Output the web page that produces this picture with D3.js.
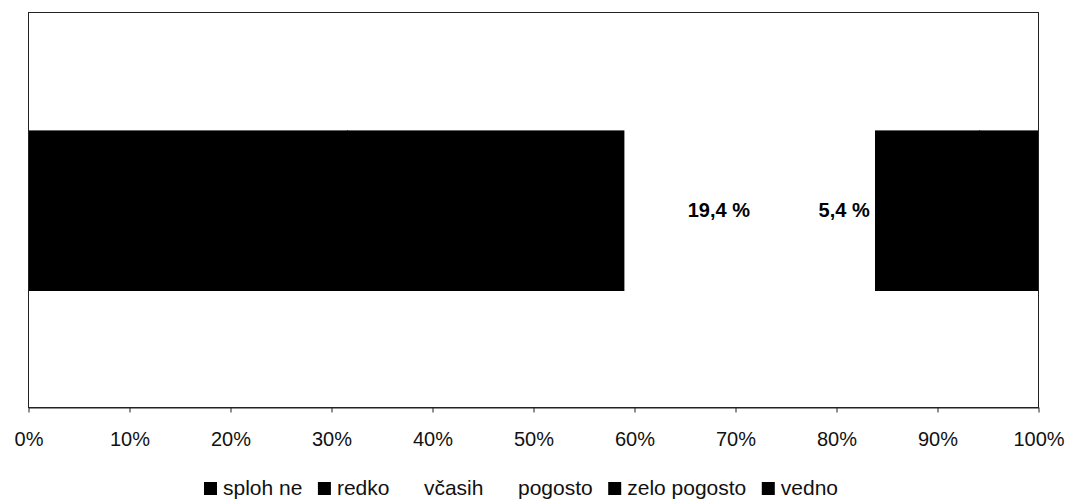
<!DOCTYPE html>
<html>
<head>
<meta charset="utf-8">
<script src="https://cdn.jsdelivr.net/npm/d3@7"></script>
<style>
  html, body { margin: 0; padding: 0; background: #fff; }
  svg { display: block; font-family: "Liberation Sans", Arial, sans-serif; }
</style>
</head>
<body>
<svg id="chart" width="1066" height="501"></svg>
<script>
// Answer categories (stacked left to right)
const categories = ["sploh ne", "redko", "včasih", "pogosto", "zelo pogosto", "vedno"];
// Share of answers, in percent
const values = [31.6, 27.5, 19.4, 5.4, 10.3, 5.8];
// Segment fills per category
const fills = ["#000000", "#000000", "#ffffff", "#ffffff", "#000000", "#000000"];
// Axis tick values (percent)
const tickValues = [0, 10, 20, 30, 40, 50, 60, 70, 80, 90, 100];
// Single bar row
const rows = ["all"];

const svg = d3.select("#chart");
const margin = { left: 28, right: 28, top: 12, bottom: 94 };
const W = 1066, H = 501;
const plotW = W - margin.left - margin.right;
const plotH = H - margin.top - margin.bottom;

const x = d3.scaleLinear().domain([0, 100]).range([margin.left, margin.left + plotW]);
const y = d3.scaleBand().domain(rows).range([margin.top, margin.top + plotH])
  .paddingInner(0).paddingOuter(0.734).align(0.506);

// stacked segments
const stackRow = {};
categories.forEach((c, i) => stackRow[c] = values[i]);
const stacked = d3.stack().keys(categories)([stackRow]);

const g = svg.append("g");
g.selectAll("rect.seg")
  .data(stacked)
  .join("rect")
  .attr("class", "seg")
  .attr("x", d => x(d[0][0]))
  .attr("y", y("all"))
  .attr("width", d => x(d[0][1]) - x(d[0][0]))
  .attr("height", y.bandwidth())
  .attr("fill", (d, i) => fills[i])
  .attr("stroke", (d, i) => fills[i])
  .attr("stroke-width", 0.6)
  .attr("shape-rendering", "crispEdges");

// value labels on the light segments
const fmt = v => String(v).replace(".", ",") + " %";
g.selectAll("text.val")
  .data(stacked.filter((d, i) => fills[i] === "#ffffff"))
  .join("text")
  .attr("class", "val")
  .attr("x", d => (x(d[0][0]) + x(d[0][1])) / 2 - 4)
  .attr("y", y("all") + y.bandwidth() / 2 + 6)
  .attr("text-anchor", "middle")
  .attr("font-size", 20)
  .attr("font-weight", "bold")
  .attr("fill", "#000")
  .text(d => fmt(d[0].data[d.key]));

// plot frame
svg.append("rect")
  .attr("x", margin.left + 0.5)
  .attr("y", margin.top + 0.5)
  .attr("width", plotW)
  .attr("height", plotH)
  .attr("fill", "none")
  .attr("stroke", "#222")
  .attr("stroke-width", 1);

// bottom axis
const axis = d3.axisBottom(x)
  .tickValues(tickValues)
  .tickFormat(d => d + "%")
  .tickSizeInner(5)
  .tickSizeOuter(0)
  .tickPadding(19);
const ax = svg.append("g")
  .attr("transform", `translate(0.5,${margin.top + plotH + 0.5})`)
  .call(axis);
ax.select(".domain").attr("stroke", "#222");
ax.selectAll(".tick line").attr("stroke", "#222");
ax.selectAll(".tick text")
  .attr("font-size", 20)
  .attr("font-family", "Liberation Sans, Arial, sans-serif")
  .attr("fill", "#111");

// legend
const legend = svg.append("g").attr("font-size", 21).attr("fill", "#111");
let lx = 204;
const ly = 495;
categories.forEach((c, i) => {
  legend.append("rect")
    .attr("x", lx).attr("y", ly - 13)
    .attr("width", 13).attr("height", 13)
    .attr("fill", fills[i]);
  const t = legend.append("text")
    .attr("x", lx + 19).attr("y", ly)
    .text(c);
  const w = t.node().getComputedTextLength();
  lx += 19 + w + 15.5;
});
</script>
</body>
</html>
